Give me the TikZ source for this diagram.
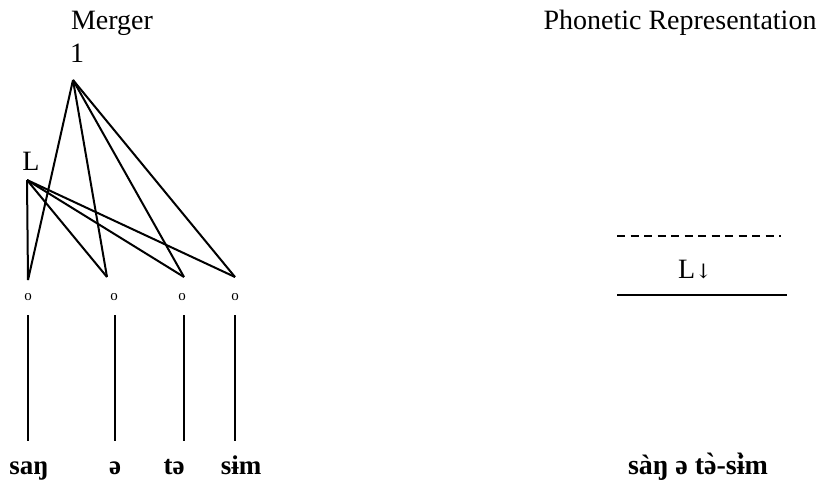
\documentclass[tikz,border=0pt]{standalone}
\usepackage{fontspec}
\setmainfont{Liberation Serif}
\newfontfamily\symfont{DejaVu Serif}
\newfontfamily\accfont[Ligatures=TeXOff]{Liberation Serif}
\newcommand{\grv}[1]{\ooalign{#1\cr\hidewidth\raisebox{0.04em}{\accfont\bfseries `}\hidewidth\cr}}
\begin{document}
\begin{tikzpicture}[x=1pt,y=-1pt,
  lbl/.style={font=\fontsize{28}{30}\selectfont, inner sep=0pt},
  word/.style={font=\fontsize{27}{30}\selectfont\bfseries, inner sep=0pt, anchor=base},
  slot/.style={font=\fontsize{15}{16}\selectfont, inner sep=0pt},
  assoc/.style={line width=2pt},
  stem/.style={line width=1.8pt}]
\useasboundingbox (0,0) rectangle (819,487);
% headings
\node[lbl, anchor=base] (merger) at (112,30) {Merger};
\node[lbl, anchor=base] (one) at (77,63) {1};
\node[lbl, anchor=base] (phon) at (680,30) {Phonetic Representation};
\node[lbl, anchor=base] (L) at (31,170) {L};
% apexes
\coordinate (a1) at (73,80);
\coordinate (aL) at (27,180);
% bottom association points
\coordinate (b1) at (28,280);
\coordinate (b2) at (107,277);
\coordinate (b3) at (184,277);
\coordinate (b4) at (235,277);
% association lines
\foreach \b in {b1,b2,b3,b4} {
  \draw[assoc] (a1) -- (\b);
  \draw[assoc] (aL) -- (\b);
}
% slots
\node[slot] (o1) at (28,297) {o};
\node[slot] (o2) at (114,297) {o};
\node[slot] (o3) at (182,297) {o};
\node[slot] (o4) at (235,297) {o};
% stems
\coordinate (s1t) at (28,315); \coordinate (s1b) at (28,441);
\coordinate (s2t) at (115,315); \coordinate (s2b) at (115,441);
\coordinate (s3t) at (184,315); \coordinate (s3b) at (184,441);
\coordinate (s4t) at (235,315); \coordinate (s4b) at (235,441);
\draw[stem] (s1t) -- (s1b);
\draw[stem] (s2t) -- (s2b);
\draw[stem] (s3t) -- (s3b);
\draw[stem] (s4t) -- (s4b);
% words
\node[word] (w1) at (29,474) {saŋ};
\node[word] (w2) at (115,474) {ə};
\node[word] (w3) at (174,474) {tə};
\node[word] (w4) at (241,474) {sɨm};
% right side
\coordinate (d1) at (617,236); \coordinate (d2) at (781,236);
\draw[line width=1.6pt, dash pattern=on 8pt off 5.5pt] (d1) -- (d2);
\node[lbl, anchor=base] (Ld) at (695,278) {L{\symfont\fontsize{20}{24}\selectfont↓}};
\coordinate (l1) at (617,295); \coordinate (l2) at (787,295);
\draw[line width=2pt] (l1) -- (l2);
\node[word, font=\fontsize{28}{30}\selectfont\bfseries] (out) at (698,474) {sàŋ ə t\grv{ə}-s\grv{ɨ}m};
\end{tikzpicture}
\end{document}
